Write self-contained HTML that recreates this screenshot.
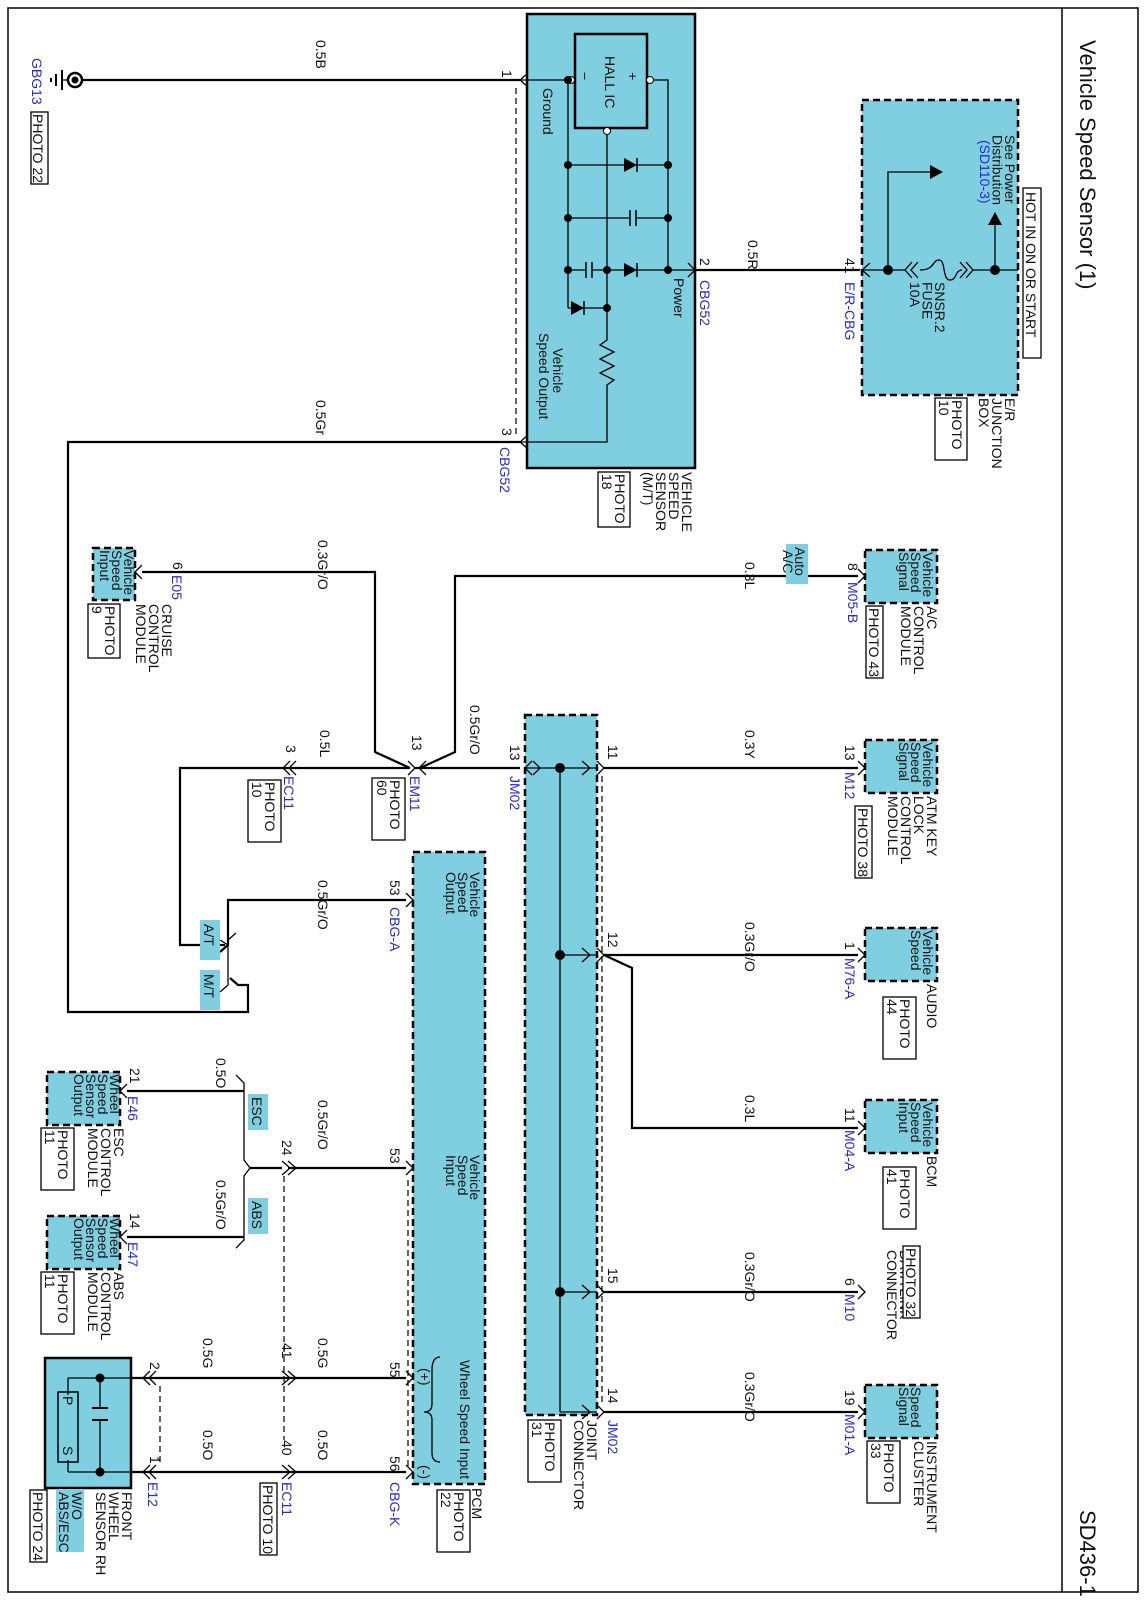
<!DOCTYPE html>
<html><head><meta charset="utf-8"><style>
html,body{margin:0;padding:0;background:#fff}
svg{display:block}
text{font-family:"Liberation Sans",sans-serif;font-size:14px;fill:#111}
.b{fill:#2a2acc}
.w{stroke:#000;stroke-width:2.2;fill:none}
.t{stroke:#000;stroke-width:1.3;fill:none}
.c{stroke:#000;stroke-width:1.3;fill:none}
.d{stroke:#000;stroke-width:1.2;fill:none;stroke-dasharray:6,4}
.bx{fill:#7fcfe1;stroke:#000;stroke-width:2.5;stroke-dasharray:7,4}
.sb{fill:#7fcfe1;stroke:#000;stroke-width:2.5}
.tag{fill:#7fcfe1}
.pb{fill:#fff;stroke:#000;stroke-width:1.3}
</style></head><body>
<svg width="1146" height="1600" viewBox="0 0 1146 1600" xmlns="http://www.w3.org/2000/svg">
<rect x="8" y="8" width="1130" height="1584" fill="none" stroke="#000" stroke-width="1.5"/>
<line x1="1062" y1="8" x2="1062" y2="1592" stroke="#000" stroke-width="1.5"/>
<text transform="translate(1080,40) rotate(90)" style="font-size:22px">Vehicle Speed Sensor (1)</text>
<text transform="translate(1080,1510) rotate(90)" style="font-size:22px">SD436-1</text>

<!-- Ground -->
<line class="w" x1="80" y1="80" x2="520" y2="80"/>
<circle cx="75" cy="80" r="7" fill="#fff" stroke="#000" stroke-width="2.5"/>
<circle cx="75" cy="80" r="3.5" fill="#000"/>
<line class="t" x1="68" y1="80" x2="62" y2="80"/>
<line x1="62" y1="70" x2="62" y2="90" stroke="#000" stroke-width="2"/>
<line x1="56" y1="74" x2="56" y2="86" stroke="#000" stroke-width="2"/>
<line x1="51" y1="78" x2="51" y2="82" stroke="#000" stroke-width="2"/>
<text class="b" transform="translate(32,58) rotate(90)">GBG13</text>
<rect class="pb" x="31" y="112" width="17" height="72"/>
<text transform="translate(33,114) rotate(90)">PHOTO 22</text>
<text transform="translate(316,40) rotate(90)">0.5B</text>

<!-- Vehicle speed sensor -->
<rect class="sb" x="527" y="14" width="168" height="454"/>
<rect x="575" y="34" width="72" height="94" fill="none" stroke="#000" stroke-width="2.5"/>
<text transform="translate(605,56) rotate(90)" style="font-size:14px">HALL IC</text>
<text transform="translate(628,72) rotate(90)">+</text>
<text transform="translate(580,72) rotate(90)">−</text>
<g class="t">
<polyline points="520,80 568,80"/>
<polyline points="654,80 668,80 668,270 695,270"/>
<line x1="568" y1="80" x2="568" y2="308"/>
<line x1="568" y1="165" x2="668" y2="165"/>
<line x1="568" y1="218" x2="668" y2="218"/>
<line x1="568" y1="270" x2="668" y2="270"/>
<line x1="568" y1="308" x2="607" y2="308"/>
<polyline points="607,135 607,340 600,345 614,352 600,359 614,366 600,373 614,380 607,385 607,442 520,442"/>
</g>
<circle cx="571" cy="80" r="3.5" fill="#fff" stroke="#000"/>
<circle cx="650" cy="80" r="3.5" fill="#fff" stroke="#000"/>
<circle cx="607" cy="131" r="3.5" fill="#fff" stroke="#000"/>
<g fill="#000">
<circle cx="568" cy="80" r="4"/><circle cx="568" cy="165" r="4"/><circle cx="668" cy="165" r="4"/>
<circle cx="568" cy="218" r="4"/><circle cx="668" cy="218" r="4"/>
<circle cx="568" cy="270" r="4"/><circle cx="607" cy="270" r="4"/><circle cx="668" cy="270" r="4"/>
<circle cx="607" cy="308" r="4"/>
<polygon points="624,158 624,172 637,165"/>
<polygon points="624,263 624,277 637,270"/>
<polygon points="571,301 571,315 584,308"/>
</g>
<line x1="637" y1="158" x2="637" y2="172" stroke="#000" stroke-width="1.5"/>
<line x1="637" y1="263" x2="637" y2="277" stroke="#000" stroke-width="1.5"/>
<line x1="584" y1="301" x2="584" y2="315" stroke="#000" stroke-width="1.5"/>
<rect x="630" y="210" width="6" height="16" fill="#7fcfe1"/>
<line x1="630" y1="210" x2="630" y2="226" stroke="#000" stroke-width="1.5"/>
<line x1="636" y1="210" x2="636" y2="226" stroke="#000" stroke-width="1.5"/>
<rect x="586" y="262" width="6" height="16" fill="#7fcfe1"/>
<line x1="586" y1="262" x2="586" y2="278" stroke="#000" stroke-width="1.5"/>
<line x1="592" y1="262" x2="592" y2="278" stroke="#000" stroke-width="1.5"/>
<text transform="translate(543,88) rotate(90)">Ground</text>
<text transform="translate(674,278) rotate(90)">Power</text>
<text transform="translate(553,348) rotate(90)"><tspan x="0">Vehicle</tspan><tspan x="-15" dy="14">Speed Output</tspan></text>
<g class="c"><polyline points="528,73 520,80 528,87"/><polyline points="528,435 520,442 528,449"/><polyline points="688,263 695,270 688,277"/></g>
<line class="d" x1="516" y1="88" x2="516" y2="436"/>
<text transform="translate(502,70) rotate(90)">1</text>
<text transform="translate(502,428) rotate(90)">3</text>
<text transform="translate(700,258) rotate(90)">2</text>
<text class="b" transform="translate(700,280) rotate(90)">CBG52</text>
<text class="b" transform="translate(500,447) rotate(90)">CBG52</text>
<text transform="translate(682,472) rotate(90)"><tspan x="0">VEHICLE</tspan><tspan x="0" dy="13">SPEED</tspan><tspan x="0" dy="13">SENSOR</tspan><tspan x="0" dy="13">(M/T)</tspan></text>
<rect class="pb" x="598" y="472" width="32" height="55"/>
<text transform="translate(615,474) rotate(90)"><tspan x="0">PHOTO</tspan><tspan x="0" dy="13">18</tspan></text>
<text transform="translate(316,400) rotate(90)">0.5Gr</text>

<!-- power wire & junction box -->
<line class="w" x1="695" y1="270" x2="860" y2="270"/>
<text transform="translate(748,240) rotate(90)">0.5R</text>
<rect class="bx" x="862" y="100" width="156" height="295"/>
<g class="t">
<line x1="862" y1="270" x2="1018" y2="270"/>
<polyline points="888,270 888,172 930,172"/>
<polyline points="995,270 995,225"/>
</g>
<rect x="905" y="262" width="68" height="16" fill="#7fcfe1"/>
<g class="c"><polyline points="912,262 905,270 912,278"/><polyline points="918,262 911,270 918,278"/><polyline points="966,262 973,270 966,278"/><polyline points="960,262 967,270 960,278"/>
<path d="M920,270 C935,270 932,260 939,260 C946,260 942,280 950,280 C957,280 955,270 962,270"/>
<polyline points="870,263 862,270 870,277"/></g>
<g fill="#000"><circle cx="888" cy="270" r="5"/><circle cx="995" cy="270" r="5"/>
<polygon points="930,165 930,179 943,172"/><polygon points="988,225 1002,225 995,212"/></g>
<text transform="translate(1005,135) rotate(90)"><tspan x="0">See Power</tspan><tspan x="0" dy="12.5">Distribution</tspan><tspan x="5" dy="12.5" class="b">(SD110-3)</tspan></text>
<text transform="translate(935,282) rotate(90)"><tspan x="0">SNSR.2</tspan><tspan x="0" dy="12.5">FUSE</tspan><tspan x="0" dy="12.5">10A</tspan></text>
<rect x="1023" y="188" width="18" height="170" fill="#fff" stroke="#000" stroke-width="1.3"/>
<text transform="translate(1026,192) rotate(90)">HOT IN ON OR START</text>
<text transform="translate(845,258) rotate(90)">41</text>
<text class="b" transform="translate(845,282) rotate(90)">E/R-CBG</text>
<text transform="translate(1005,398) rotate(90)"><tspan x="0">E/R</tspan><tspan x="0" dy="13">JUNCTION</tspan><tspan x="0" dy="13">BOX</tspan></text>
<rect class="pb" x="935" y="398" width="32" height="62"/>
<text transform="translate(952,400) rotate(90)"><tspan x="0">PHOTO</tspan><tspan x="0" dy="13">10</tspan></text>

<!-- vss output wire down -->
<polyline class="w" points="520,442 68,442 68,1012 248,1012 248,985 238,985 230,978"/>

<!-- Cruise -->
<rect class="bx" x="93" y="548" width="42" height="52"/>
<text transform="translate(124,550) rotate(90)"><tspan x="0">Vehicle</tspan><tspan x="0" dy="12">Speed</tspan><tspan x="0" dy="12">Input</tspan></text>
<polyline class="w" points="142,572 375,572 375,752 410,768"/>
<polyline class="c" points="142,565 135,572 142,579"/>
<text transform="translate(173,562) rotate(90)">6</text>
<text class="b" transform="translate(172,575) rotate(90)">E05</text>
<text transform="translate(162,604) rotate(90)"><tspan x="0">CRUISE</tspan><tspan x="0" dy="13">CONTROL</tspan><tspan x="0" dy="13">MODULE</tspan></text>
<rect class="pb" x="88" y="604" width="32" height="54"/>
<text transform="translate(105,606) rotate(90)"><tspan x="0">PHOTO</tspan><tspan x="0" dy="13">9</tspan></text>
<text transform="translate(318,540) rotate(90)">0.3Gr/O</text>

<!-- A/C -->
<rect class="bx" x="865" y="550" width="72" height="53"/>
<text transform="translate(923,552) rotate(90)"><tspan x="0">Vehicle</tspan><tspan x="0" dy="12">Speed</tspan><tspan x="0" dy="12">Signal</tspan></text>
<polyline class="w" points="858,576 455,576 455,752 420,768"/>
<polyline class="c" points="858,569 865,576 858,583"/>
<text transform="translate(848,563) rotate(90)">8</text>
<text class="b" transform="translate(848,582) rotate(90)">M05-B</text>
<text transform="translate(927,606) rotate(90)"><tspan x="0">A/C</tspan><tspan x="0" dy="13">CONTROL</tspan><tspan x="0" dy="13">MODULE</tspan></text>
<rect class="pb" x="866" y="606" width="17" height="72"/>
<text transform="translate(869,608) rotate(90)">PHOTO 43</text>
<rect class="tag" x="786" y="544" width="22" height="40"/>
<text transform="translate(795,547) rotate(90)"><tspan x="0">Auto</tspan><tspan x="3" dy="12">A/C</tspan></text>
<text transform="translate(745,562) rotate(90)">0.3L</text>

<!-- EM11 / main wire -->
<line class="w" x1="415" y1="768" x2="520" y2="768"/>
<polyline class="w" points="410,768 180,768 180,945 225,945"/>
<g class="c"><polyline points="408,761 415,768 408,775"/><polyline points="426,761 419,768 426,775"/>
<polyline points="290,761 283,768 290,775"/><polyline points="296,761 289,768 296,775"/></g>
<text transform="translate(412,735) rotate(90)">13</text>
<text class="b" transform="translate(410,776) rotate(90)">EM11</text>
<rect class="pb" x="372" y="778" width="33" height="62"/>
<text transform="translate(390,780) rotate(90)"><tspan x="0">PHOTO</tspan><tspan x="0" dy="13">60</tspan></text>
<text transform="translate(470,705) rotate(90)">0.5Gr/O</text>
<text transform="translate(320,730) rotate(90)">0.5L</text>
<text transform="translate(286,745) rotate(90)">3</text>
<text class="b" transform="translate(284,776) rotate(90)">EC11</text>
<rect class="pb" x="248" y="780" width="33" height="62"/>
<text transform="translate(265,782) rotate(90)"><tspan x="0">PHOTO</tspan><tspan x="0" dy="13">10</tspan></text>

<!-- JM02 -->
<rect class="bx" x="525" y="715" width="72" height="700"/>
<g class="t"><line x1="525" y1="768" x2="597" y2="768"/><line x1="560" y1="768" x2="560" y2="1412"/>
<line x1="560" y1="955" x2="597" y2="955"/><line x1="560" y1="1292" x2="597" y2="1292"/><line x1="560" y1="1412" x2="597" y2="1412"/>
<polyline points="532,761 525,768 532,775"/><polyline points="533,761 540,768 533,775"/><polyline points="582,761 590,768 582,775"/>
<polyline points="582,948 590,955 582,962"/><polyline points="582,1285 590,1292 582,1299"/><polyline points="582,1405 590,1412 582,1419"/>
<polyline points="597,761 604,768 597,775"/><polyline points="597,948 604,955 597,962"/><polyline points="597,1285 604,1292 597,1299"/><polyline points="597,1405 604,1412 597,1419"/></g>
<line class="d" x1="602" y1="776" x2="602" y2="1405"/>
<g fill="#000"><circle cx="560" cy="768" r="5"/><circle cx="560" cy="955" r="5"/><circle cx="560" cy="1292" r="5"/></g>
<text transform="translate(510,745) rotate(90)">13</text>
<text class="b" transform="translate(510,776) rotate(90)">JM02</text>
<text transform="translate(608,745) rotate(90)">11</text>
<text transform="translate(608,932) rotate(90)">12</text>
<text transform="translate(608,1268) rotate(90)">15</text>
<text transform="translate(608,1388) rotate(90)">14</text>
<text class="b" transform="translate(608,1420) rotate(90)">JM02</text>
<text transform="translate(587,1420) rotate(90)"><tspan x="0">JOINT</tspan><tspan x="0" dy="13">CONNECTOR</tspan></text>
<rect class="pb" x="528" y="1420" width="33" height="62"/>
<text transform="translate(545,1422) rotate(90)"><tspan x="0">PHOTO</tspan><tspan x="0" dy="13">31</tspan></text>

<!-- ATM key -->
<line class="w" x1="604" y1="768" x2="858" y2="768"/>
<polyline class="c" points="858,761 865,768 858,775"/>
<rect class="bx" x="865" y="740" width="72" height="53"/>
<text transform="translate(923,742) rotate(90)"><tspan x="0">Vehicle</tspan><tspan x="0" dy="12">Speed</tspan><tspan x="0" dy="12">Signal</tspan></text>
<text transform="translate(845,745) rotate(90)">13</text>
<text class="b" transform="translate(845,772) rotate(90)">M12</text>
<text transform="translate(927,796) rotate(90)"><tspan x="0">ATM KEY</tspan><tspan x="0" dy="13">LOCK</tspan><tspan x="0" dy="13">CONTROL</tspan><tspan x="0" dy="13">MODULE</tspan></text>
<rect class="pb" x="855" y="806" width="17" height="72"/>
<text transform="translate(858,808) rotate(90)">PHOTO 38</text>
<text transform="translate(745,730) rotate(90)">0.3Y</text>

<!-- Audio -->
<line class="w" x1="604" y1="955" x2="858" y2="955"/>
<polyline class="c" points="858,948 865,955 858,962"/>
<rect class="bx" x="865" y="928" width="72" height="53"/>
<text transform="translate(923,930) rotate(90)"><tspan x="0">Vehicle</tspan><tspan x="0" dy="12">Speed</tspan></text>
<text transform="translate(845,942) rotate(90)">1</text>
<text class="b" transform="translate(845,958) rotate(90)">M76-A</text>
<text transform="translate(927,984) rotate(90)">AUDIO</text>
<rect class="pb" x="883" y="997" width="33" height="62"/>
<text transform="translate(900,999) rotate(90)"><tspan x="0">PHOTO</tspan><tspan x="0" dy="13">44</tspan></text>
<text transform="translate(745,922) rotate(90)">0.3Gr/O</text>

<!-- BCM -->
<polyline class="w" points="604,955 632,968 632,1128 858,1128"/>
<polyline class="c" points="858,1121 865,1128 858,1135"/>
<rect class="bx" x="865" y="1100" width="72" height="53"/>
<text transform="translate(923,1102) rotate(90)"><tspan x="0">Vehicle</tspan><tspan x="0" dy="12">Speed</tspan><tspan x="0" dy="12">Input</tspan></text>
<text transform="translate(845,1108) rotate(90)">11</text>
<text class="b" transform="translate(845,1130) rotate(90)">M04-A</text>
<text transform="translate(927,1156) rotate(90)">BCM</text>
<rect class="pb" x="883" y="1167" width="33" height="62"/>
<text transform="translate(900,1169) rotate(90)"><tspan x="0">PHOTO</tspan><tspan x="0" dy="13">41</tspan></text>
<text transform="translate(745,1095) rotate(90)">0.3L</text>

<!-- DLC -->
<line class="w" x1="604" y1="1292" x2="858" y2="1292"/>
<polyline class="c" points="858,1285 865,1292 858,1299"/>
<text transform="translate(845,1278) rotate(90)">6</text>
<text class="b" transform="translate(845,1294) rotate(90)">M10</text>
<text transform="translate(900,1250) rotate(90)"><tspan x="0">DATA LINK</tspan><tspan x="0" dy="13">CONNECTOR</tspan></text>
<rect class="pb" x="903" y="1246" width="17" height="72"/>
<text transform="translate(906,1248) rotate(90)">PHOTO 32</text>
<text transform="translate(745,1252) rotate(90)">0.3Gr/O</text>

<!-- Instrument cluster -->
<line class="w" x1="604" y1="1412" x2="858" y2="1412"/>
<polyline class="c" points="858,1405 865,1412 858,1419"/>
<rect class="bx" x="865" y="1385" width="72" height="53"/>
<text transform="translate(911,1387) rotate(90)"><tspan x="0">Speed</tspan><tspan x="0" dy="12">Signal</tspan></text>
<text transform="translate(845,1390) rotate(90)">19</text>
<text class="b" transform="translate(845,1414) rotate(90)">M01-A</text>
<text transform="translate(927,1441) rotate(90)"><tspan x="0">INSTRUMENT</tspan><tspan x="0" dy="13">CLUSTER</tspan></text>
<rect class="pb" x="867" y="1441" width="33" height="62"/>
<text transform="translate(884,1443) rotate(90)"><tspan x="0">PHOTO</tspan><tspan x="0" dy="13">33</tspan></text>
<text transform="translate(745,1372) rotate(90)">0.3Gr/O</text>

<!-- PCM -->
<rect class="bx" x="413" y="852" width="72" height="632"/>
<text transform="translate(470,872) rotate(90)"><tspan x="0">Vehicle</tspan><tspan x="0" dy="12">Speed</tspan><tspan x="0" dy="12">Output</tspan></text>
<text transform="translate(470,1155) rotate(90)"><tspan x="0">Vehicle</tspan><tspan x="0" dy="12">Speed</tspan><tspan x="0" dy="12">Input</tspan></text>
<text transform="translate(460,1360) rotate(90)" style="font-size:14px">Wheel Speed Input</text>
<text transform="translate(420,1368) rotate(90)">(+)</text>
<text transform="translate(420,1465) rotate(90)">(-)</text>
<path class="t" d="M440,1357 Q432,1357 432,1370 L432,1404 Q432,1412 424,1412 Q432,1412 432,1420 L432,1453 Q432,1462 440,1462"/>
<line class="d" x1="408" y1="1180" x2="408" y2="1470"/>
<polyline class="w" points="406,900 228,900 228,945 220,952"/>
<polyline class="c" points="406,893 413,900 406,907"/>
<text transform="translate(390,880) rotate(90)">53</text>
<text class="b" transform="translate(390,907) rotate(90)">CBG-A</text>
<text transform="translate(318,880) rotate(90)">0.5Gr/O</text>
<rect class="tag" x="200" y="920" width="20" height="40"/>
<text transform="translate(204,924) rotate(90)">A/T</text>
<rect class="tag" x="200" y="970" width="20" height="40"/>
<text transform="translate(204,974) rotate(90)">M/T</text>
<polyline class="t" points="220,940 228,945 228,985 220,992"/>
<polyline class="t" points="228,940 236,933"/>

<polyline class="w" points="406,1168 288,1168"/>
<polyline class="w" points="282,1168 250,1168"/>
<polyline class="c" points="406,1161 413,1168 406,1175"/>
<polyline class="c" points="282,1161 290,1168 282,1175"/><polyline class="c" points="288,1161 296,1168 288,1175"/>
<line class="d" x1="284" y1="1176" x2="284" y2="1440"/>
<text transform="translate(390,1148) rotate(90)">53</text>
<text transform="translate(318,1100) rotate(90)">0.5Gr/O</text>
<text transform="translate(282,1140) rotate(90)">24</text>
<polyline class="t" points="236,1075 244,1083 244,1160 250,1168 244,1176 244,1240 236,1248"/>
<rect class="tag" x="248" y="1094" width="20" height="36"/>
<text transform="translate(252,1097) rotate(90)">ESC</text>
<rect class="tag" x="248" y="1198" width="20" height="36"/>
<text transform="translate(252,1201) rotate(90)">ABS</text>

<!-- ESC -->
<rect class="bx" x="47" y="1072" width="73" height="53"/>
<text transform="translate(110,1074) rotate(90)"><tspan x="0">Wheel</tspan><tspan x="0" dy="12">Speed</tspan><tspan x="0" dy="12">Sensor</tspan><tspan x="0" dy="12">Output</tspan></text>
<line class="w" x1="127" y1="1091" x2="244" y2="1091"/>
<polyline class="c" points="127,1084 120,1091 127,1098"/>
<text transform="translate(130,1068) rotate(90)">21</text>
<text class="b" transform="translate(128,1096) rotate(90)">E46</text>
<text transform="translate(216,1058) rotate(90)">0.5O</text>
<text transform="translate(114,1128) rotate(90)"><tspan x="0">ESC</tspan><tspan x="0" dy="13">CONTROL</tspan><tspan x="0" dy="13">MODULE</tspan></text>
<rect class="pb" x="41" y="1128" width="33" height="62"/>
<text transform="translate(58,1130) rotate(90)"><tspan x="0">PHOTO</tspan><tspan x="0" dy="13">11</tspan></text>

<!-- ABS -->
<rect class="bx" x="47" y="1216" width="73" height="53"/>
<text transform="translate(110,1218) rotate(90)"><tspan x="0">Wheel</tspan><tspan x="0" dy="12">Speed</tspan><tspan x="0" dy="12">Sensor</tspan><tspan x="0" dy="12">Output</tspan></text>
<line class="w" x1="127" y1="1237" x2="244" y2="1237"/>
<polyline class="c" points="127,1230 120,1237 127,1244"/>
<text transform="translate(130,1213) rotate(90)">14</text>
<text class="b" transform="translate(128,1242) rotate(90)">E47</text>
<text transform="translate(216,1180) rotate(90)">0.5Gr/O</text>
<text transform="translate(114,1272) rotate(90)"><tspan x="0">ABS</tspan><tspan x="0" dy="13">CONTROL</tspan><tspan x="0" dy="13">MODULE</tspan></text>
<rect class="pb" x="41" y="1272" width="33" height="62"/>
<text transform="translate(58,1274) rotate(90)"><tspan x="0">PHOTO</tspan><tspan x="0" dy="13">11</tspan></text>

<!-- Front wheel sensor -->
<rect class="sb" x="45" y="1358" width="86" height="130"/>
<g class="t"><polyline points="131,1378 100,1378 100,1408"/><polyline points="100,1420 100,1472 131,1472"/>
<line x1="100" y1="1378" x2="68" y2="1378"/><line x1="68" y1="1378" x2="68" y2="1395"/><line x1="100" y1="1472" x2="68" y2="1472"/><line x1="68" y1="1472" x2="68" y2="1460"/></g>
<line x1="92" y1="1408" x2="108" y2="1408" stroke="#000" stroke-width="2"/>
<line x1="92" y1="1420" x2="108" y2="1420" stroke="#000" stroke-width="2"/>
<rect x="58" y="1392" width="20" height="70" fill="none" stroke="#000" stroke-width="1.5"/>
<text transform="translate(63,1396) rotate(90)">P</text>
<text transform="translate(63,1446) rotate(90)">S</text>
<g fill="#000"><circle cx="100" cy="1378" r="4.5"/><circle cx="100" cy="1472" r="4.5"/></g>
<line class="w" x1="131" y1="1378" x2="406" y2="1378"/>
<line class="w" x1="131" y1="1472" x2="406" y2="1472"/>
<g class="c"><polyline points="406,1371 413,1378 406,1385"/><polyline points="406,1465 413,1472 406,1479"/>
<polyline points="282,1371 290,1378 282,1385"/><polyline points="288,1371 296,1378 288,1385"/>
<polyline points="282,1465 290,1472 282,1479"/><polyline points="288,1465 296,1472 288,1479"/>
<polyline points="150,1371 143,1378 150,1385"/><polyline points="156,1371 149,1378 156,1385"/>
<polyline points="150,1465 143,1472 150,1479"/><polyline points="156,1465 149,1472 156,1479"/></g>
<line class="d" x1="160" y1="1386" x2="160" y2="1465"/>
<text transform="translate(390,1362) rotate(90)">55</text>
<text transform="translate(390,1456) rotate(90)">56</text>
<text class="b" transform="translate(390,1482) rotate(90)">CBG-K</text>
<text transform="translate(282,1343) rotate(90)">41</text>
<text transform="translate(282,1440) rotate(90)">40</text>
<text class="b" transform="translate(282,1482) rotate(90)">EC11</text>
<rect class="pb" x="260" y="1483" width="17" height="72"/>
<text transform="translate(263,1485) rotate(90)">PHOTO 10</text>
<text transform="translate(150,1362) rotate(90)">2</text>
<text transform="translate(150,1456) rotate(90)">1</text>
<text class="b" transform="translate(148,1482) rotate(90)">E12</text>
<text transform="translate(318,1338) rotate(90)">0.5G</text>
<text transform="translate(318,1430) rotate(90)">0.5O</text>
<text transform="translate(203,1338) rotate(90)">0.5G</text>
<text transform="translate(203,1430) rotate(90)">0.5O</text>
<text transform="translate(472,1488) rotate(90)">PCM</text>
<rect class="pb" x="437" y="1490" width="33" height="62"/>
<text transform="translate(454,1492) rotate(90)"><tspan x="0">PHOTO</tspan><tspan x="0" dy="13">22</tspan></text>
<text transform="translate(122,1492) rotate(90)"><tspan x="0">FRONT</tspan><tspan x="0" dy="13">WHEEL</tspan><tspan x="0" dy="13">SENSOR RH</tspan></text>
<rect class="tag" x="56" y="1490" width="28" height="62"/>
<text transform="translate(72,1492) rotate(90)"><tspan x="0">W/O</tspan><tspan x="0" dy="13">ABS/ESC</tspan></text>
<rect class="pb" x="30" y="1490" width="17" height="72"/>
<text transform="translate(33,1492) rotate(90)">PHOTO 24</text>
</svg>
</body></html>
